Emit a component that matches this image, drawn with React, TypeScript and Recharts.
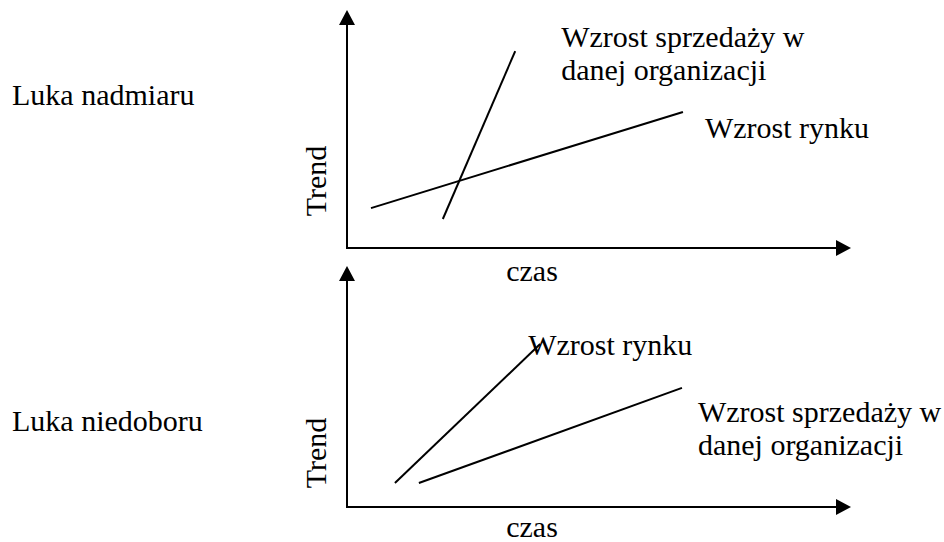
import React from 'react';
import { LineChart, Line, XAxis, YAxis, Label, LabelList } from 'recharts';

// Luka nadmiaru: sales grow faster than the market
const surplusSales = [
  { x: 19.6, y: 13.0 },
  { x: 34.4, y: 88.3, label: ['Wzrost sprzedaży w', 'danej organizacji'] },
];
const surplusMarket = [
  { x: 4.9, y: 17.9 },
  { x: 68.7, y: 61.0, label: ['Wzrost rynku'] },
];

// Luka niedoboru: market grows faster than sales
const shortageMarket = [
  { x: 9.8, y: 10.6 },
  { x: 39.5, y: 72.1, label: ['Wzrost rynku'] },
];
const shortageSales = [
  { x: 14.7, y: 10.6 },
  { x: 68.5, y: 52.7, label: ['Wzrost sprzedaży w', 'danej organizacji'] },
];

const FONT = "'Liberation Serif', 'Times New Roman', serif";
const FONT_SIZE = 30;
const LINE_GAP = 33;

const axisLine = {
  stroke: '#000',
  strokeWidth: 2,
  strokeLinecap: 'square' as const,
};

const endLabel = (dx: number, dy: number) => (props: any) => {
  const { x, y, value } = props;
  if (!value || !Array.isArray(value)) return null;
  return (
    <text x={x + dx} y={y + dy} fontFamily={FONT} fontSize={FONT_SIZE} fill="#000">
      {value.map((line: string, i: number) => (
        <tspan key={i} x={x + dx} dy={i === 0 ? 0 : LINE_GAP}>
          {line}
        </tspan>
      ))}
    </text>
  );
};

interface PanelProps {
  top: number;
  height: number;
  marginTop: number;
  marginBottom: number;
  title: string;
  titleY: number;
  czasDy: number;
  trendDy: number;
  series: { data: any[]; dx: number; dy: number }[];
}

function Panel({ top, height, marginTop, marginBottom, title, titleY, czasDy, trendDy, series }: PanelProps) {
  return (
    <div style={{ position: 'absolute', left: 0, top }}>
      <LineChart
        width={944}
        height={height}
        margin={{ top: marginTop, right: 108, bottom: marginBottom - 1, left: 346 }}
      >
        <XAxis
          type="number"
          dataKey="x"
          domain={[0, 100]}
          height={1}
          tick={false}
          tickLine={false}
          axisLine={{ ...axisLine, markerEnd: 'url(#arrowhead)' }}
        >
          <Label
            content={({ viewBox }: any) => (
              <text
                x={viewBox.x + 185}
                y={viewBox.y + czasDy}
                textAnchor="middle"
                fontFamily={FONT}
                fontSize={FONT_SIZE}
                fill="#000"
              >
                czas
              </text>
            )}
          />
        </XAxis>
        <YAxis
          type="number"
          domain={[0, 100]}
          width={1}
          tick={false}
          tickLine={false}
          axisLine={{ ...axisLine, markerStart: 'url(#arrowhead)' }}
        >
          <Label
            content={({ viewBox }: any) => {
              const tx = viewBox.x + viewBox.width - 21;
              const ty = viewBox.y + trendDy;
              return (
                <g>
                  <text
                    x={tx}
                    y={ty}
                    transform={`rotate(-90 ${tx} ${ty})`}
                    textAnchor="middle"
                    fontFamily={FONT}
                    fontSize={FONT_SIZE}
                    fill="#000"
                  >
                    Trend
                  </text>
                  <text x={12} y={titleY} fontFamily={FONT} fontSize={FONT_SIZE} fill="#000">
                    {title}
                  </text>
                </g>
              );
            }}
          />
        </YAxis>
        {series.map((s, i) => (
          <Line
            key={i}
            data={s.data}
            dataKey="y"
            type="linear"
            stroke="#000"
            strokeWidth={2}
            dot={false}
            activeDot={false}
            isAnimationActive={false}
          >
            <LabelList dataKey="label" content={endLabel(s.dx, s.dy)} />
          </Line>
        ))}
      </LineChart>
    </div>
  );
}

export default function App() {
  return (
    <div style={{ position: 'absolute', left: 0, top: 0, width: 944, height: 542, background: '#fff' }}>
      <svg width={0} height={0} style={{ position: 'absolute' }}>
        <defs>
          <marker
            id="arrowhead"
            viewBox="0 0 15 16"
            refX={0}
            refY={8}
            markerWidth={15}
            markerHeight={16}
            markerUnits="userSpaceOnUse"
            orient="auto-start-reverse"
          >
            <path d="M0,0 L15,8 L0,16 z" fill="#000" />
          </marker>
        </defs>
      </svg>
      <Panel
        top={0}
        height={295}
        marginTop={25}
        marginBottom={47}
        title="Luka nadmiaru"
        titleY={105}
        czasDy={33}
        trendDy={156}
        series={[
          { data: surplusSales, dx: 46, dy: -4 },
          { data: surplusMarket, dx: 22, dy: 26 },
        ]}
      />
      <Panel
        top={255}
        height={287}
        marginTop={26}
        marginBottom={35}
        title="Luka niedoboru"
        titleY={176}
        czasDy={30}
        trendDy={172}
        series={[
          { data: shortageMarket, dx: -12, dy: 11 },
          { data: shortageSales, dx: 16, dy: 34 },
        ]}
      />
    </div>
  );
}
